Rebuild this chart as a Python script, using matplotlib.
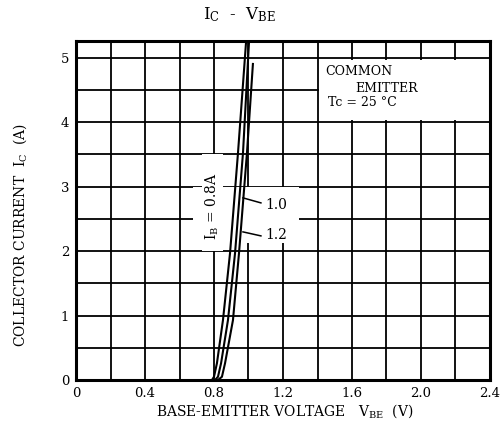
import matplotlib
matplotlib.use("Agg")
import matplotlib.pyplot as plt
from matplotlib.patches import Rectangle
import numpy as np

plt.rcParams['font.family'] = ['DejaVu Serif']
plt.rcParams['mathtext.fontset'] = 'dejavuserif'

# Data
vbe_08 = [0.788, 0.800, 0.817, 0.852, 0.893, 0.939, 0.986]
ic_08 = [0.0, 0.05, 0.26, 0.93, 1.97, 3.52, 5.25]
vbe_10 = [0.806, 0.823, 0.841, 0.881, 0.922, 0.968, 1.003]
ic_10 = [0.0, 0.05, 0.26, 0.93, 1.97, 3.52, 5.25]
vbe_12 = [0.823, 0.846, 0.864, 0.910, 0.945, 0.991, 1.026]
ic_12 = [0.0, 0.05, 0.26, 0.93, 1.97, 3.52, 4.92]

x_ticks = [0, 0.4, 0.8, 1.2, 1.6, 2.0, 2.4]
x_tick_labels = ['0', '0.4', '0.8', '1.2', '1.6', '2.0', '2.4']
y_ticks = [0, 1, 2, 3, 4, 5]
y_tick_labels = ['0', '1', '2', '3', '4', '5']

fig = plt.figure(figsize=(5.02, 4.26), dpi=100)
ax = fig.add_axes([76/502, 1-380/426, (490-76)/502, (380-41)/426])
ax.set_xlim(0, 2.4)
ax.set_ylim(0, 5.26)

# grid
for gx in np.arange(0.2, 2.4, 0.2):
    ax.axvline(gx, color='black', lw=1.3, zorder=1)
for gy in np.arange(0.5, 5.26, 0.5):
    ax.axhline(gy, color='black', lw=1.3, zorder=1)

# white boxes behind annotations
ax.add_patch(Rectangle((0.68, 2.12), 0.61, 0.88, facecolor='white', edgecolor='none', zorder=2))
ax.add_patch(Rectangle((0.73, 2.0), 0.12, 1.5, facecolor='white', edgecolor='none', zorder=2))
ax.add_patch(Rectangle((1.41, 4.04), 0.985, 0.92, facecolor='white', edgecolor='none', zorder=2))

# curves
for v, i in [(vbe_08, ic_08), (vbe_10, ic_10), (vbe_12, ic_12)]:
    ax.plot(v, i, color='black', lw=1.5, zorder=4, solid_capstyle='butt')

# annotations
ax.text(0.788, 2.69, r'I$_\mathrm{B}$ = 0.8A', rotation=90, ha='center', va='center',
        fontsize=10, zorder=5)
ax.plot([0.968, 1.072], [2.826, 2.748], color='black', lw=1.1, zorder=5)
ax.plot([0.968, 1.072], [2.298, 2.236], color='black', lw=1.1, zorder=5)
ax.text(1.096, 2.72, '1.0', ha='left', va='center', fontsize=10, zorder=5)
ax.text(1.10, 2.25, '1.2', ha='left', va='center', fontsize=10, zorder=5)

ax.text(1.443, 4.78, 'COMMON', ha='left', va='center', fontsize=9, zorder=5)
ax.text(1.617, 4.53, 'EMITTER', ha='left', va='center', fontsize=9, zorder=5)
ax.text(1.46, 4.30, 'Tc = 25 \u00b0C', ha='left', va='center', fontsize=9, zorder=5)

ax.set_xticks(x_ticks)
ax.set_xticklabels(x_tick_labels)
ax.set_yticks(y_ticks)
ax.set_yticklabels(y_tick_labels)
ax.tick_params(length=0, labelsize=9.5, pad=5)
for s in ax.spines.values():
    s.set_linewidth(2.2)
    s.set_zorder(6)

fig.text(240/502, 1-15/426, r'I$_\mathrm{C}$  -  V$_\mathrm{BE}$', ha='center', va='center', fontsize=12)
fig.text(285/502, 1-411/426, r'BASE-EMITTER VOLTAGE   V$_\mathrm{BE}$  (V)', ha='center', va='center', fontsize=10)
fig.text(20/502, 1-235/426, r'COLLECTOR CURRENT  I$_\mathrm{C}$  (A)', ha='center', va='center', fontsize=10, rotation=90)

fig.savefig('out.png', dpi=100, facecolor='white')
